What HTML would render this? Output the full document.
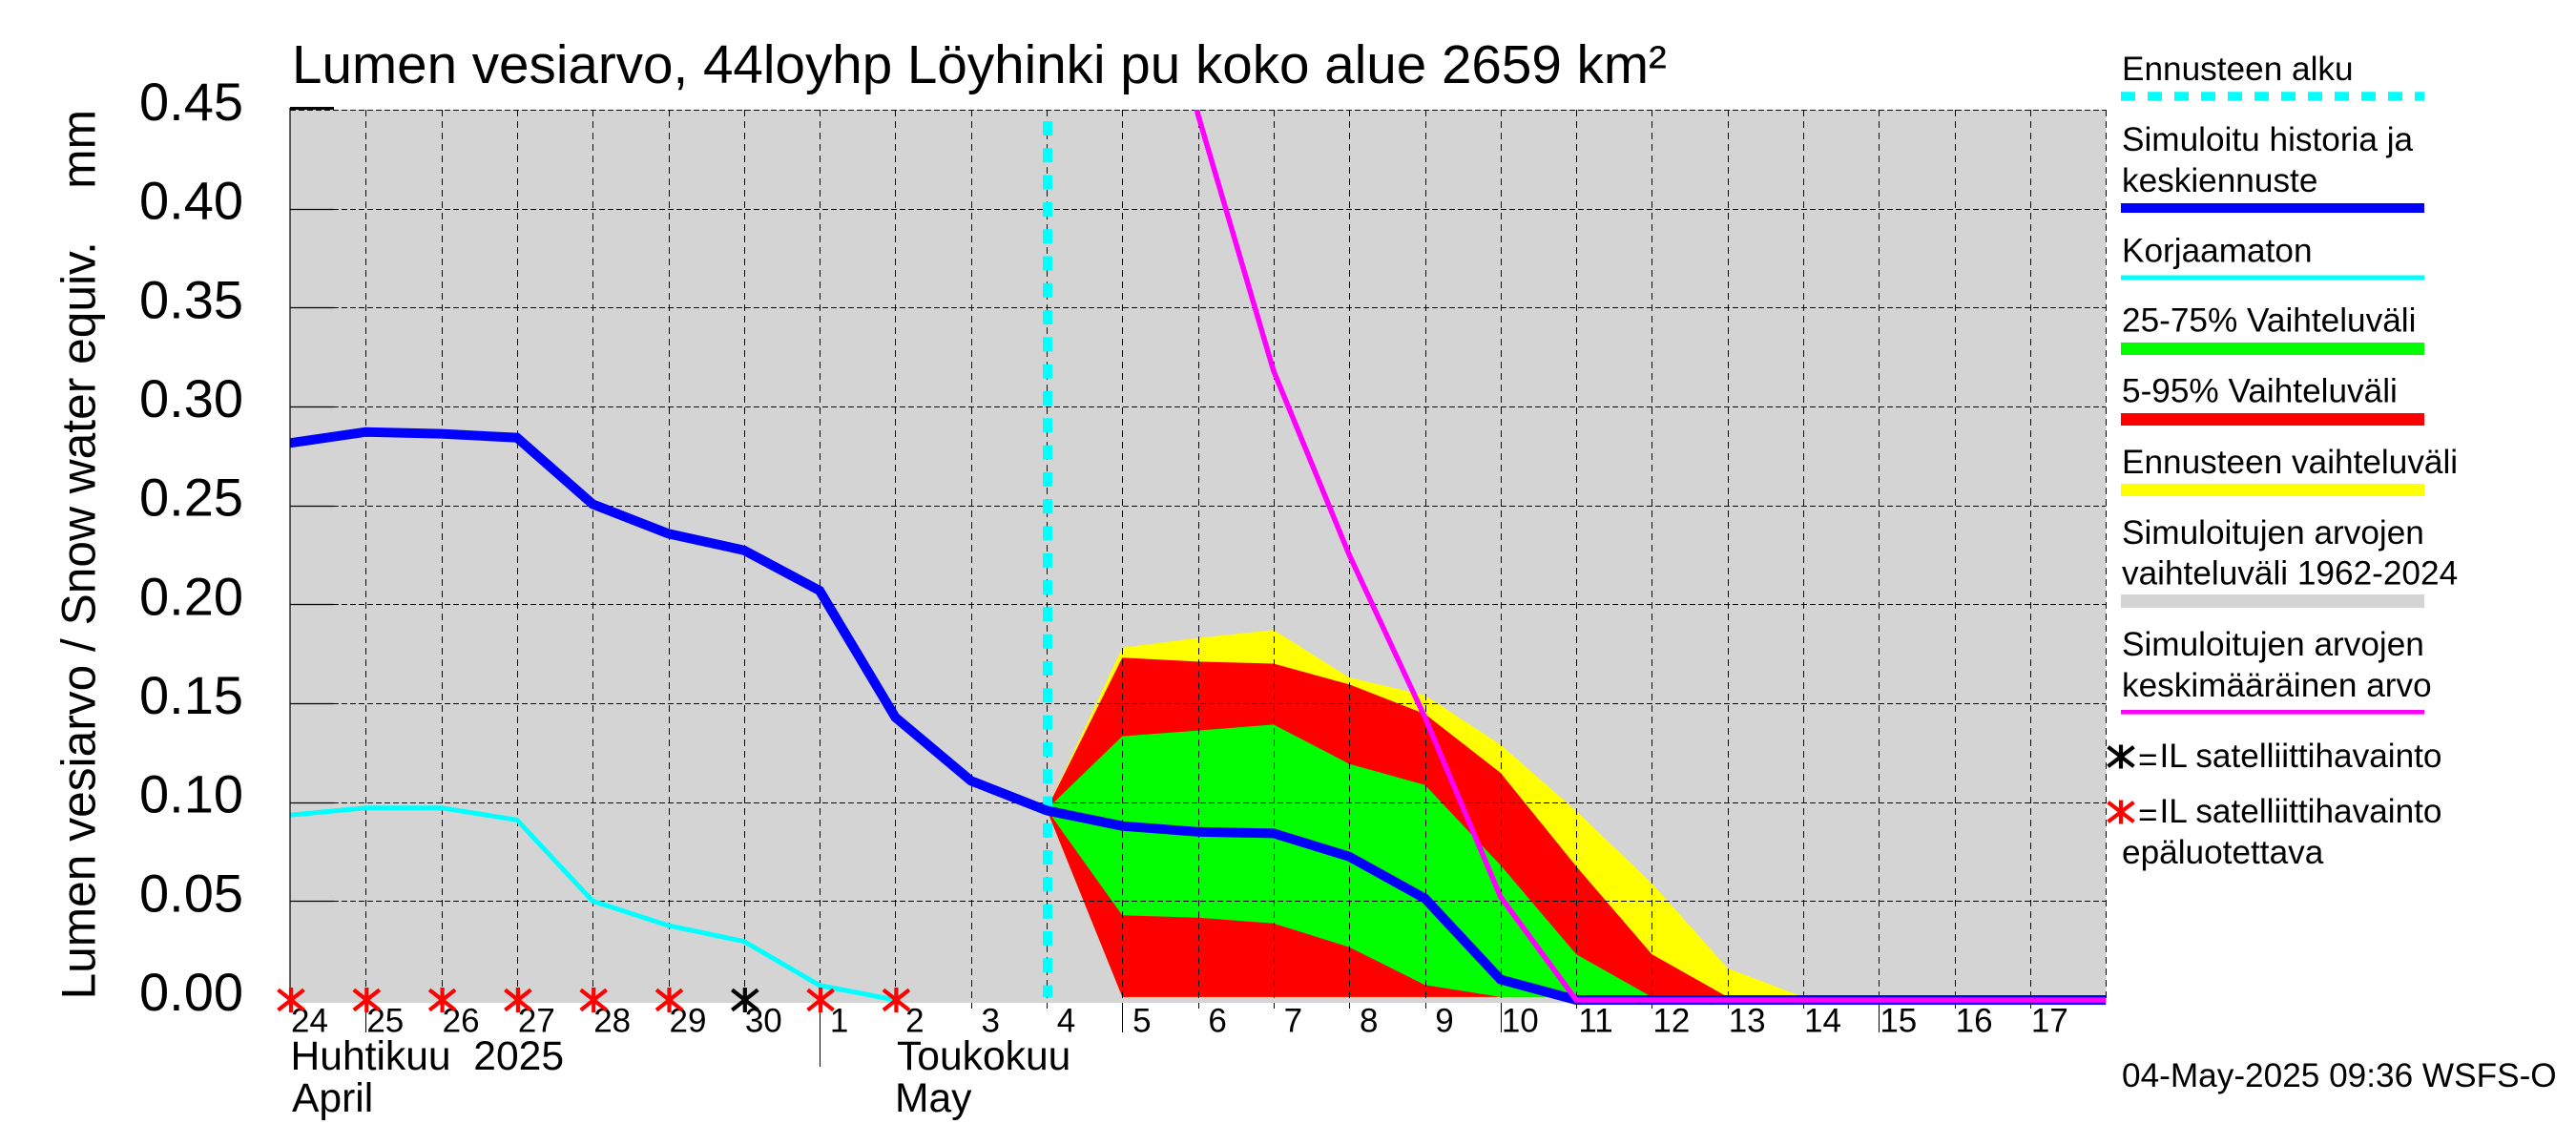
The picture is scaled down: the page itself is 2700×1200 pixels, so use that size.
<!DOCTYPE html>
<html lang="fi">
<head>
<meta charset="utf-8">
<title>Lumen vesiarvo</title>
<style>
html,body{margin:0;padding:0;background:#fff;width:2700px;height:1200px;overflow:hidden}
svg{display:block}
text{font-family:"Liberation Sans",sans-serif;fill:#000;white-space:pre}
.leg{font-size:35.2px}
.day{font-size:35px;text-anchor:middle}
.mon{font-size:42.6px}
.yt{font-size:56px;text-anchor:end}
</style>
</head>
<body>
<svg id="chart" xmlns="http://www.w3.org/2000/svg" width="2700" height="1200" viewBox="0 0 2700 1200">
  <defs>
    <clipPath id="plot-clip"><rect x="304" y="115" width="1903.5" height="940"/></clipPath>
  </defs>
  <rect x="0" y="0" width="2700" height="1200" fill="#ffffff"/>
  <rect x="304" y="115" width="1903.5" height="936" fill="#d4d4d4"/>
  <g id="bands"></g>
  <g id="grid"></g>
  <g id="lines" clip-path="url(#plot-clip)"></g>
  <g id="axes"></g>
  <g id="markers"></g>

  <text x="306" y="87" font-size="56.6">Lumen vesiarvo, 44loyhp Löyhinki pu koko alue 2659 km²</text>
  <text transform="translate(99.3,1047.5) rotate(-90)" font-size="49.7">Lumen vesiarvo / Snow water equiv.    mm</text>

  <text class="mon" x="304.5" y="1121">Huhtikuu  2025</text>
  <text class="mon" x="306" y="1165">April</text>
  <text class="mon" x="940" y="1121">Toukokuu</text>
  <text class="mon" x="938" y="1165">May</text>

  <g>
    <text class="leg" x="2224" y="84">Ennusteen alku</text>
    <line x1="2223" x2="2541" y1="101" y2="101" stroke="#00ffff" stroke-width="9.6" stroke-dasharray="15 13"/>
    <text class="leg" x="2224" y="158">Simuloitu historia ja</text>
    <text class="leg" x="2224" y="201">keskiennuste</text>
    <rect x="2223" y="213" width="318" height="10" fill="#0000ff"/>
    <text class="leg" x="2224" y="274.5">Korjaamaton</text>
    <rect x="2223" y="288.5" width="318" height="5" fill="#00ffff"/>
    <text class="leg" x="2224" y="347.5">25-75% Vaihteluväli</text>
    <rect x="2223" y="359" width="318" height="13" fill="#00ff00"/>
    <text class="leg" x="2224" y="421.5">5-95% Vaihteluväli</text>
    <rect x="2223" y="433" width="318" height="13" fill="#ff0000"/>
    <text class="leg" x="2224" y="496">Ennusteen vaihteluväli</text>
    <rect x="2223" y="507" width="318" height="13" fill="#ffff00"/>
    <text class="leg" x="2224" y="570">Simuloitujen arvojen</text>
    <text class="leg" x="2224" y="612.5">vaihteluväli 1962-2024</text>
    <rect x="2223" y="623" width="318" height="14" fill="#d4d4d4"/>
    <text class="leg" x="2224" y="687">Simuloitujen arvojen</text>
    <text class="leg" x="2224" y="730">keskimääräinen arvo</text>
    <rect x="2223" y="744" width="318" height="4.6" fill="#ff00ff"/>
    <text class="leg" x="2241" y="808">=</text>
    <text class="leg" x="2263.5" y="804">IL satelliittihavainto</text>
    <text class="leg" x="2241" y="866">=</text>
    <text class="leg" x="2263.5" y="862">IL satelliittihavainto</text>
    <text class="leg" x="2224" y="905">epäluotettava</text>
  </g>
  <text class="leg" x="2224" y="1139">04-May-2025 09:36 WSFS-O</text>
</svg>

<script>
// ---- chart data (day index 0 = 24 April 2025) ----
const dayLabels = ['24','25','26','27','28','29','30','1','2','3','4','5','6','7','8','9','10','11','12','13','14','15','16','17'];
const longTickDays = [1, 11, 16, 21];
const monthTickDays = [7];
const yTickValues = [0.00, 0.05, 0.10, 0.15, 0.20, 0.25, 0.30, 0.35, 0.40, 0.45];
const yTickLabels = ['0.00','0.05','0.10','0.15','0.20','0.25','0.30','0.35','0.40','0.45'];

const historyDays = [0,1,2,3,4,5,6,7,8,9,10,11,12,13,14,15,16,17,18,24];
const simulatedValues = [0.2815,0.2871,0.2862,0.2842,0.2506,0.2357,0.2273,0.2069,0.1429,0.1108,0.0958,0.0879,0.0850,0.0842,0.0725,0.0513,0.0103,0,0,0];

const uncorrectedDays = [0,1,2,3,4,5,6,7,8];
const uncorrectedValues = [0.0934,0.0971,0.0971,0.0910,0.0500,0.0376,0.0296,0.0074,0];

const meanDays = [11,12,13,14,15,16,17,18,24];
const meanValues = [0.62,0.4476,0.318,0.225,0.1429,0.0521,0,0,0];

const forecastStartDay = 10;
const bandDays = [10,11,12,13,14,15,16,17,18,19,20];
const rangeUpper = [0.0963,0.178,0.183,0.187,0.163,0.154,0.129,0.0955,0.059,0.016,0.0015];
const p95Upper   = [0.0963,0.173,0.171,0.170,0.1595,0.1446,0.1148,0.0675,0.0231,0.0015,0.0015];
const p75Upper   = [0.0963,0.1333,0.1362,0.1392,0.1193,0.1087,0.0681,0.0231,0.0015,0.0015,0.0015];
const p25Lower   = [0.0963,0.0428,0.0416,0.0387,0.0267,0.0076,0.0015,0.0015,0.0015,0.0015,0.0015];
const p5Lower    = [0.0963,0.0015,0.0015,0.0015,0.0015,0.0015,0.0015,0.0015,0.0015,0.0015,0.0015];

const unreliableSatelliteDays = [0,1,2,3,4,5,7,8];
const unreliableSatelliteValues = [0,0,0,0,0,0,0,0];
const satelliteDays = [6];
const satelliteValues = [0];

// ---- axis functions ----
const xOf = d => 304 + d * 79.3;
const yOf = v => 1048 - v * 2073.4;
const NS = 'http://www.w3.org/2000/svg';

function make(tag, parent, attrs) {
  const el = document.createElementNS(NS, tag);
  for (const k in attrs) el.setAttribute(k, attrs[k]);
  parent.appendChild(el);
  return el;
}
function linePoints(days, vals) {
  return days.map((d, i) => xOf(d).toFixed(1) + ',' + yOf(vals[i]).toFixed(1)).join(' ');
}
function bandPoints(days, upper, lower) {
  const up = days.map((d, i) => xOf(d).toFixed(1) + ',' + yOf(upper[i]).toFixed(1));
  const lo = days.map((d, i) => xOf(d).toFixed(1) + ',' + yOf(lower[i]).toFixed(1)).reverse();
  return up.concat(lo).join(' ');
}
function starPath(x, y, w, h) {
  const dy = h * 0.41;
  return 'M' + x + ' ' + (y - h / 2) + 'V' + (y + h / 2) +
    'M' + (x - w / 2) + ' ' + (y - dy) + 'L' + (x + w / 2) + ' ' + (y + dy) +
    'M' + (x - w / 2) + ' ' + (y + dy) + 'L' + (x + w / 2) + ' ' + (y - dy);
}

// ---- forecast bands ----
const bandsG = document.getElementById('bands');
const yellowBand = make('polygon', bandsG, {points: bandPoints(bandDays, rangeUpper, p5Lower), fill: '#ffff00'});


const redBand = make('polygon', bandsG, {points: bandPoints(bandDays, p95Upper, p5Lower), fill: '#ff0000'});


const greenBand = make('polygon', bandsG, {points: bandPoints(bandDays, p75Upper, p25Lower), fill: '#00ff00'});



// ---- grid ----
const gridG = document.getElementById('grid');
dayLabels.forEach((lab, d) => {
  if (d === 0) return;
  const gl = make('line', gridG, {x1: Math.round(xOf(d)) + 0.5, x2: Math.round(xOf(d)) + 0.5, y1: 115, y2: 1051, stroke: '#000', 'stroke-width': 1, 'stroke-dasharray': '7 5'});
  
  
});
const rightEdge = make('line', gridG, {x1: 2207.5, x2: 2207.5, y1: 115, y2: 1051, stroke: '#000', 'stroke-width': 1, 'stroke-dasharray': '7 5'});


yTickValues.forEach(v => {
  if (v === 0) return;
  const gl = make('line', gridG, {x1: 304, x2: 2207.5, y1: Math.round(yOf(v)) + 0.5, y2: Math.round(yOf(v)) + 0.5, stroke: '#000', 'stroke-width': 1, 'stroke-dasharray': '6 3'});
  
  
});

// ---- series lines ----
const linesG = document.getElementById('lines');
const startLine = make('line', linesG, {x1: xOf(forecastStartDay) + 1, x2: xOf(forecastStartDay) + 1, y1: 127, y2: 1045, stroke: '#00ffff', 'stroke-width': 10, 'stroke-dasharray': '15 13.3'});


const uncorrectedLine = make('polyline', linesG, {points: linePoints(uncorrectedDays, uncorrectedValues), fill: 'none', stroke: '#00ffff', 'stroke-width': 5});


const simulatedLine = make('polyline', linesG, {points: linePoints(historyDays, simulatedValues), fill: 'none', stroke: '#0000ff', 'stroke-width': 10});


const meanLine = make('polyline', linesG, {points: linePoints(meanDays, meanValues), fill: 'none', stroke: '#ff00ff', 'stroke-width': 5.5});



// ---- axes ----
const axesG = document.getElementById('axes');
const leftAxis = make('line', axesG, {x1: 304, x2: 304, y1: 113, y2: 1051, stroke: '#000', 'stroke-width': 1.2});


yTickValues.forEach((v, i) => {
  const y = yOf(v);
  if (v > 0) {
    const isTop = i === yTickValues.length - 1;
    const t = make('line', axesG, {x1: 304, x2: 350, y1: isTop ? y - 1.5 : Math.round(y) + 0.5, y2: isTop ? y - 1.5 : Math.round(y) + 0.5, stroke: '#000', 'stroke-width': isTop ? 3 : 1.2});
    
    
  }
  const lab = make('text', axesG, {x: 255, y: y + 11, class: 'yt'});
  lab.textContent = yTickLabels[i];
  
  
});
dayLabels.forEach((txt, d) => {
  const x = Math.round(xOf(d)) + 0.5;
  let bottom = 1057;
  if (longTickDays.includes(d)) bottom = 1082;
  if (monthTickDays.includes(d)) bottom = 1118;
  if (d > 0) {
    const t = make('line', axesG, {x1: x, x2: x, y1: 1051, y2: bottom, stroke: '#000', 'stroke-width': 1});
    
    
  }
  const lab = make('text', axesG, {x: xOf(d) + 20.5, y: 1081.5, class: 'day'});
  lab.textContent = txt;
  
  
});

// ---- satellite markers ----
const markersG = document.getElementById('markers');
unreliableSatelliteDays.forEach((d, i) => {
  const m = make('path', markersG, {d: starPath(xOf(d) + 1, yOf(unreliableSatelliteValues[i]), 27, 26), fill: 'none', stroke: '#ff0000', 'stroke-width': 4.2});
  
  
});
satelliteDays.forEach((d, i) => {
  const m = make('path', markersG, {d: starPath(xOf(d) + 1, yOf(satelliteValues[i]), 27, 26), fill: 'none', stroke: '#000000', 'stroke-width': 4.2});
  
  
});
const legendBlackStar = make('path', markersG, {d: starPath(2223, 793, 27, 25), fill: 'none', stroke: '#000000', 'stroke-width': 4.2});


const legendRedStar = make('path', markersG, {d: starPath(2223, 851, 27, 25), fill: 'none', stroke: '#ff0000', 'stroke-width': 4.2});


</script>
</body>
</html>
